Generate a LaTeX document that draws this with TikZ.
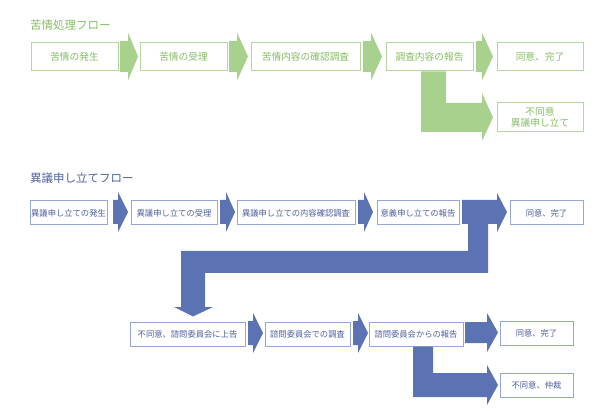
\documentclass[tikz,border=0pt]{standalone}
\usepackage{fontspec}
\setmainfont{Noto Sans CJK JP}
\definecolor{gfill}{HTML}{A9D18E}
\definecolor{gline}{HTML}{B2D89C}
\definecolor{gtext}{HTML}{86BD63}
\definecolor{bfill}{HTML}{5B73B3}
\definecolor{bline}{HTML}{95A6D8}
\definecolor{btext}{HTML}{4F5F9F}
\tikzset{
  gbox/.style={draw=gline, line width=1pt, fill=white, inner sep=0pt, minimum height=28pt, text=gtext, font=\fontsize{9.7}{11.5}\selectfont, align=center},
  bbox/.style={draw=bline, line width=1pt, fill=white, inner sep=0pt, minimum height=24pt, text=btext, font=\fontsize{8.3}{10}\selectfont, align=center},
  gtitle/.style={anchor=west, inner sep=0pt, text=gtext, font=\fontsize{11.5}{13}\selectfont},
  btitle/.style={anchor=west, inner sep=0pt, text=btext, font=\fontsize{11.5}{13}\selectfont},
}
% right block arrow: #1 colour, #2 x start, #3 head start, #4 tip, #5 centre y, #6 shaft half, #7 head half
\newcommand{\blockarrow}[7]{%
  \fill[#1] (#2,#5-#6) -- (#3,#5-#6) -- (#3,#5-#7) -- (#4,#5) -- (#3,#5+#7) -- (#3,#5+#6) -- (#2,#5+#6) -- cycle;}
\begin{document}
\begin{tikzpicture}[x=1pt,y=-1pt]
\useasboundingbox (0,0) rectangle (607,411);

% ---------- complaint flow ----------
\node[gtitle] (gt) at (30,25) {苦情処理フロー};
\node[gbox, minimum width=87pt]  (g1) at (74.5,57) {苦情の発生};
\node[gbox, minimum width=87pt]  (g2) at (183.5,57) {苦情の受理};
\node[gbox, minimum width=109pt] (g3) at (305.5,57) {苦情内容の確認調査};
\node[gbox, minimum width=87pt]  (g4) at (429.5,57) {調査内容の報告};
\node[gbox, minimum width=86pt]  (g5) at (540,57) {同意、完了};
\node[gbox, minimum width=86pt, minimum height=29pt] (g6) at (540,117.5) {不同意\\異議申し立て};

\blockarrow{gfill}{120}{128}{138}{56.5}{15.5}{24}
\blockarrow{gfill}{229}{237}{248}{56.5}{15.5}{24}
\blockarrow{gfill}{363}{371}{382}{56.5}{15.5}{24}
\blockarrow{gfill}{476}{482}{493}{56.5}{15.5}{24}
\fill[gfill] (421,71.5) -- (446,71.5) -- (446,103) -- (482,103) -- (482,93) -- (493,117.5)
  -- (482,141) -- (482,132) -- (421,132) -- cycle;

% ---------- objection flow ----------
\node[btitle] (bt) at (30,178) {異議申し立てフロー};
\node[bbox, minimum width=77pt]  (b1) at (68.5,213) {異議申し立ての発生};
\node[bbox, minimum width=86pt]  (b2) at (174,213) {異議申し立ての受理};
\node[bbox, minimum width=118pt] (b3) at (296,213) {異議申し立ての内容確認調査};
\node[bbox, minimum width=82pt]  (b4) at (418,213) {意義申し立ての報告};
\node[bbox, minimum width=73pt]  (b5) at (546.5,213) {同意、完了};

\blockarrow{bfill}{113}{118}{128}{212}{12}{20}
\blockarrow{bfill}{220}{226}{235}{212}{12}{20}
\blockarrow{bfill}{358}{364}{373}{212}{12}{20}
\fill[bfill] (462,200) -- (497,200) -- (497,193) -- (507,212) -- (497,232) -- (497,224)
  -- (488,224) -- (488,273) -- (205,273) -- (205,307) -- (213,307) -- (193,316.5)
  -- (174,307) -- (181,307) -- (181,251) -- (468,251) -- (468,224) -- (462,224) -- cycle;

\node[bbox, minimum width=115pt] (c1) at (187.5,334) {不同意、諮問委員会に上告};
\node[bbox, minimum width=85pt]  (c2) at (307.5,334) {諮問委員会での調査};
\node[bbox, minimum width=94pt]  (c3) at (416,334) {諮問委員会からの報告};
\node[bbox, minimum width=73pt]  (c4) at (536.5,333.5) {同意、完了};
\node[bbox, minimum width=73pt]  (c5) at (536.5,385) {不同意、仲裁};

\blockarrow{bfill}{248}{253}{263}{333}{12}{20}
\blockarrow{bfill}{353}{358}{368}{333}{12}{20}
\blockarrow{bfill}{465}{487}{498}{332.5}{10.5}{19.5}
\fill[bfill] (413,346.5) -- (433,346.5) -- (433,373) -- (487,373) -- (487,365) -- (498,385)
  -- (487,405) -- (487,397) -- (413,397) -- cycle;
\end{tikzpicture}
\end{document}
